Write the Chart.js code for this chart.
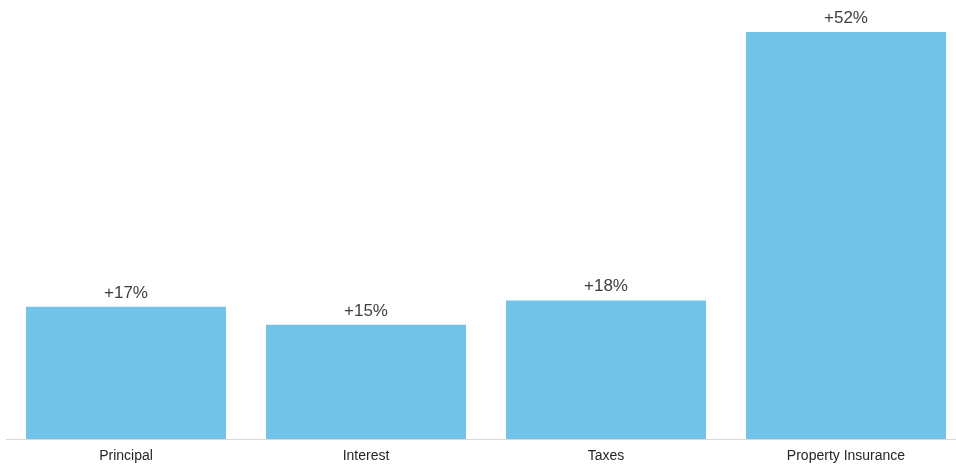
<!DOCTYPE html>
<html>
<head>
<meta charset="utf-8">
<script src="https://cdn.jsdelivr.net/npm/chart.js@4"></script>
<style>
    html, body { margin: 0; padding: 0; background: #fff; overflow: hidden; }
    #wrap { width: 966px; height: 465px; }
</style>
</head>
<body>
<div id="wrap"><canvas id="costChart"></canvas></div>
<script>
    // Cost categories and their increase (%)
    const categories = ["Principal", "Interest", "Taxes", "Property Insurance"];
    const increases = [16.9, 14.6, 17.7, 52];
    const valueLabels = ["+17%", "+15%", "+18%", "+52%"];

    // Draw the value text above each bar
    const barLabels = {
        id: "barLabels",
        afterDatasetsDraw(chart) {
            const ctx = chart.ctx;
            const meta = chart.getDatasetMeta(0);
            ctx.save();
            ctx.font = "17px 'Liberation Sans', Arial, sans-serif";
            ctx.fillStyle = "#404040";
            ctx.textAlign = "center";
            ctx.textBaseline = "alphabetic";
            meta.data.forEach((bar, i) => {
                ctx.fillText(valueLabels[i], bar.x, bar.y - 9);
            });
            ctx.restore();
        }
    };

    new Chart(document.getElementById("costChart"), {
        type: "bar",
        data: {
            labels: categories,
            datasets: [{
                label: "Increase",
                data: increases,
                backgroundColor: "#71C4E8",
                borderWidth: 0,
                barPercentage: 200 / 240,
                categoryPercentage: 1
            }]
        },
        options: {
            responsive: true,
            maintainAspectRatio: false,
            animation: false,
            layout: { padding: { top: 32, left: 6, right: 0, bottom: 0 } },
            plugins: {
                legend: { display: false },
                tooltip: { enabled: false }
            },
            scales: {
                x: {
                    grid: { display: false, drawTicks: false },
                    border: { display: true, color: "#d9d9d9", width: 1 },
                    ticks: {
                        color: "#262626",
                        padding: 9,
                        font: { family: "'Liberation Sans', Arial, sans-serif", size: 14 }
                    },
                    afterFit(scale) {
                        scale.height = 26;
                    }
                },
                y: {
                    display: false,
                    min: 0,
                    max: Math.max(...increases)
                }
            }
        },
        plugins: [barLabels]
    });
</script>
</body>
</html>
